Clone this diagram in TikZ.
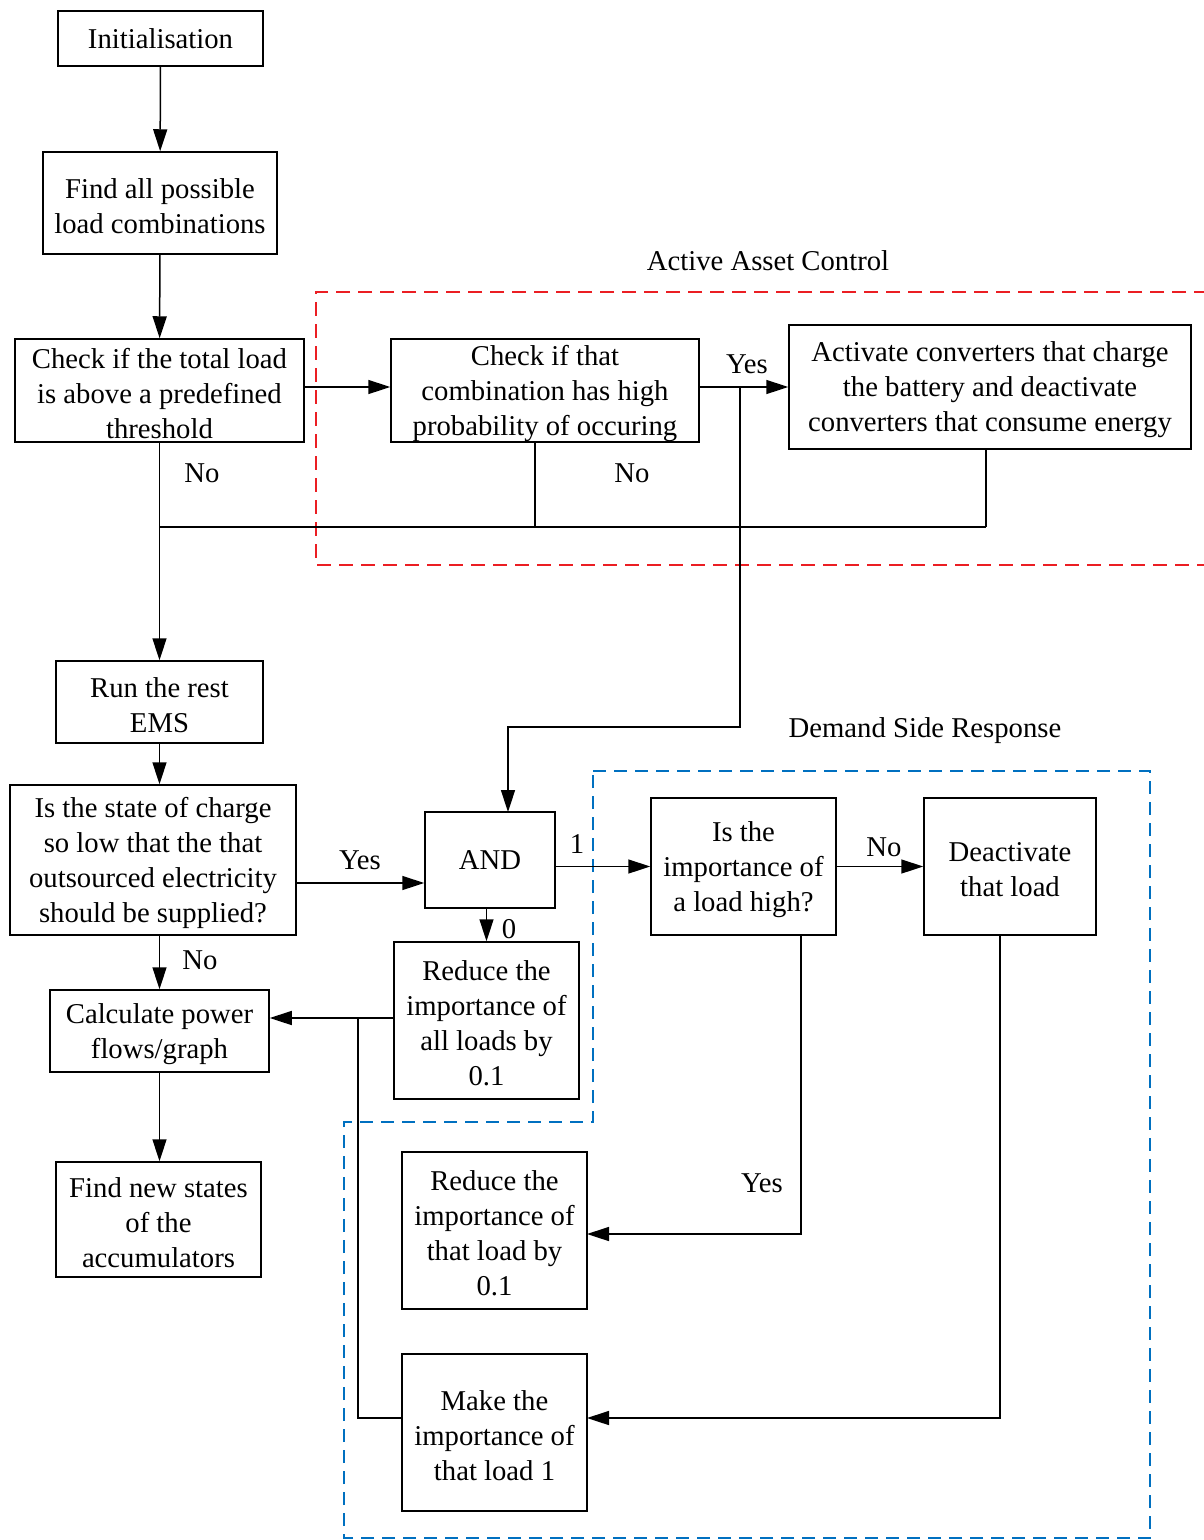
\documentclass[tikz,border=0pt]{standalone}
\usepackage{fontspec}
\setmainfont{Liberation Serif}
\usetikzlibrary{arrows.meta}
\definecolor{redline}{RGB}{235,30,35}
\definecolor{blueline}{RGB}{0,112,192}
\newcommand{\fl}{\rule{0pt}{26pt}}
\begin{document}
\begin{tikzpicture}[x=1pt,y=-1pt,
  box/.style={draw, line width=1.5pt, align=center, inner sep=0pt, font=\fontsize{28.7}{35}\selectfont},
  arr/.style={line width=1.5pt, -{Triangle[length=22pt,width=14pt]}},
  ln/.style={line width=1.5pt},
  lbl/.style={font=\fontsize{28.7}{35}\selectfont, inner sep=0pt},
  regred/.style={draw=redline, line width=1.5pt, dash pattern=on 14pt off 8pt},
  regblue/.style={draw=blueline, line width=1.5pt, dash pattern=on 13pt off 8pt}]
\useasboundingbox (0,0) rectangle (1203,1540);

% regions
\draw[regred] (1230,292) -- (316,292) -- (316,565) -- (1230,565);
\draw[regblue] (593,771) -- (1150,771) -- (1150,1538) -- (344,1538) -- (344,1122) -- (593,1122) -- cycle;
\node[lbl] (lac) at (768,261) {Active Asset Control};
\node[lbl] (ldsr) at (925,731) {Demand Side Response};

% nodes
\node[box, minimum width=205pt, minimum height=55pt] (init) at (160.5,38.5) {Initialisation};
\node[box, minimum width=234pt, minimum height=102pt] (find) at (160,203) {\fl Find all possible\\load combinations};
\node[box, minimum width=289pt, minimum height=103pt] (chk) at (159.5,390.5) {\fl Check if the total load\\is above a predefined\\threshold};
\node[box, minimum width=308pt, minimum height=103pt] (comb) at (545,390.5) {\fl Check if that\\combination has high\\probability of occuring};
\node[box, minimum width=402pt, minimum height=124pt] (act) at (990,387) {\fl Activate converters that charge\\the battery and deactivate\\converters that consume energy};
\node[box, minimum width=207pt, minimum height=82pt] (ems) at (159.5,702) {\fl Run the rest\\EMS};
\node[box, minimum width=286pt, minimum height=150pt] (soc) at (153,860) {\fl Is the state of charge\\so low that the that\\outsourced electricity\\should be supplied?};
\node[box, minimum width=130pt, minimum height=96pt] (and) at (490,860) {AND};
\node[box, minimum width=185pt, minimum height=157pt] (redall) at (486.5,1020.5) {\fl Reduce the\\importance of\\all loads by\\0.1};
\node[box, minimum width=185pt, minimum height=137pt] (imp) at (743.5,866.5) {\fl Is the\\importance of\\a load high?};
\node[box, minimum width=172pt, minimum height=137pt] (deact) at (1010,866.5) {\fl Deactivate\\that load};
\node[box, minimum width=219pt, minimum height=82pt] (calc) at (159.5,1031) {\fl Calculate power\\flows/graph};
\node[box, minimum width=205pt, minimum height=115pt] (new) at (158.5,1219.5) {\fl Find new states\\of the\\accumulators};
\node[box, minimum width=185pt, minimum height=157pt] (redone) at (494.5,1230.5) {\fl Reduce the\\importance of\\that load by\\0.1};
\node[box, minimum width=185pt, minimum height=157pt] (make) at (494.5,1432.5) {\fl Make the\\importance of\\that load 1};

% helper coordinates
\coordinate (yj) at (740,387);
\coordinate (yk) at (740,727);
\coordinate (andin) at (508,812);
\coordinate (nl) at (160,527);
\coordinate (cb) at (535,442);
\coordinate (cbm) at (535,527);
\coordinate (ab) at (986,449);
\coordinate (abm) at (986,527);
\coordinate (socy) at (296,883);
\coordinate (ib) at (801,935);
\coordinate (rk) at (587,1234);
\coordinate (db) at (1000,935);
\coordinate (mk) at (587,1418);
\coordinate (ml) at (402,1418);
\coordinate (mlc) at (358,1418);
\coordinate (mlt) at (358,1018);
\coordinate (ra) at (394,1018);

% connectors
\draw[arr] (init) -- (find);
\draw[arr] (find) -- (chk);
\draw[arr] (chk.east |- yj) -- (chk.east |- yj -| comb.west);
\draw[arr] (comb.east |- act.west) -- (act.west);
\draw[arr] (yj) -- (yk) -| (andin);
\draw[arr] (chk.south) -- (ems.north);
\draw[ln] (cb) -- (cbm);
\draw[ln] (ab) -- (abm);
\draw[ln] (nl) -- (abm);
\draw[arr] (ems.south) -- (ems.south |- soc.north);
\draw[arr] (socy) -- (socy -| and.west);
\draw[arr] (and.east |- imp.west) -- (imp.west);
\draw[arr] (imp.east) -- (deact.west);
\draw[arr] (redall.north |- and.south) -- (redall.north);
\draw[arr] (ib) |- (rk);
\draw[arr] (db) |- (mk);
\draw[ln] (ml) -- (mlc) -- (mlt);
\draw[arr] (ra) -- (ra -| calc.east);
\draw[arr] (calc.north |- soc.south) -- (calc.north);
\draw[arr] (calc.south) -- (calc.south |- new.north);

% labels
\node[lbl] (l1) at (747,364) {Yes};
\node[lbl] (l2) at (202,473) {No};
\node[lbl] (l3) at (632,473) {No};
\node[lbl] (l4) at (360,860) {Yes};
\node[lbl] (l5) at (577,844) {1};
\node[lbl] (l6) at (509,929) {0};
\node[lbl] (l7) at (884,847) {No};
\node[lbl] (l8) at (200,960) {No};
\node[lbl] (l9) at (762,1183) {Yes};
\end{tikzpicture}
\end{document}
